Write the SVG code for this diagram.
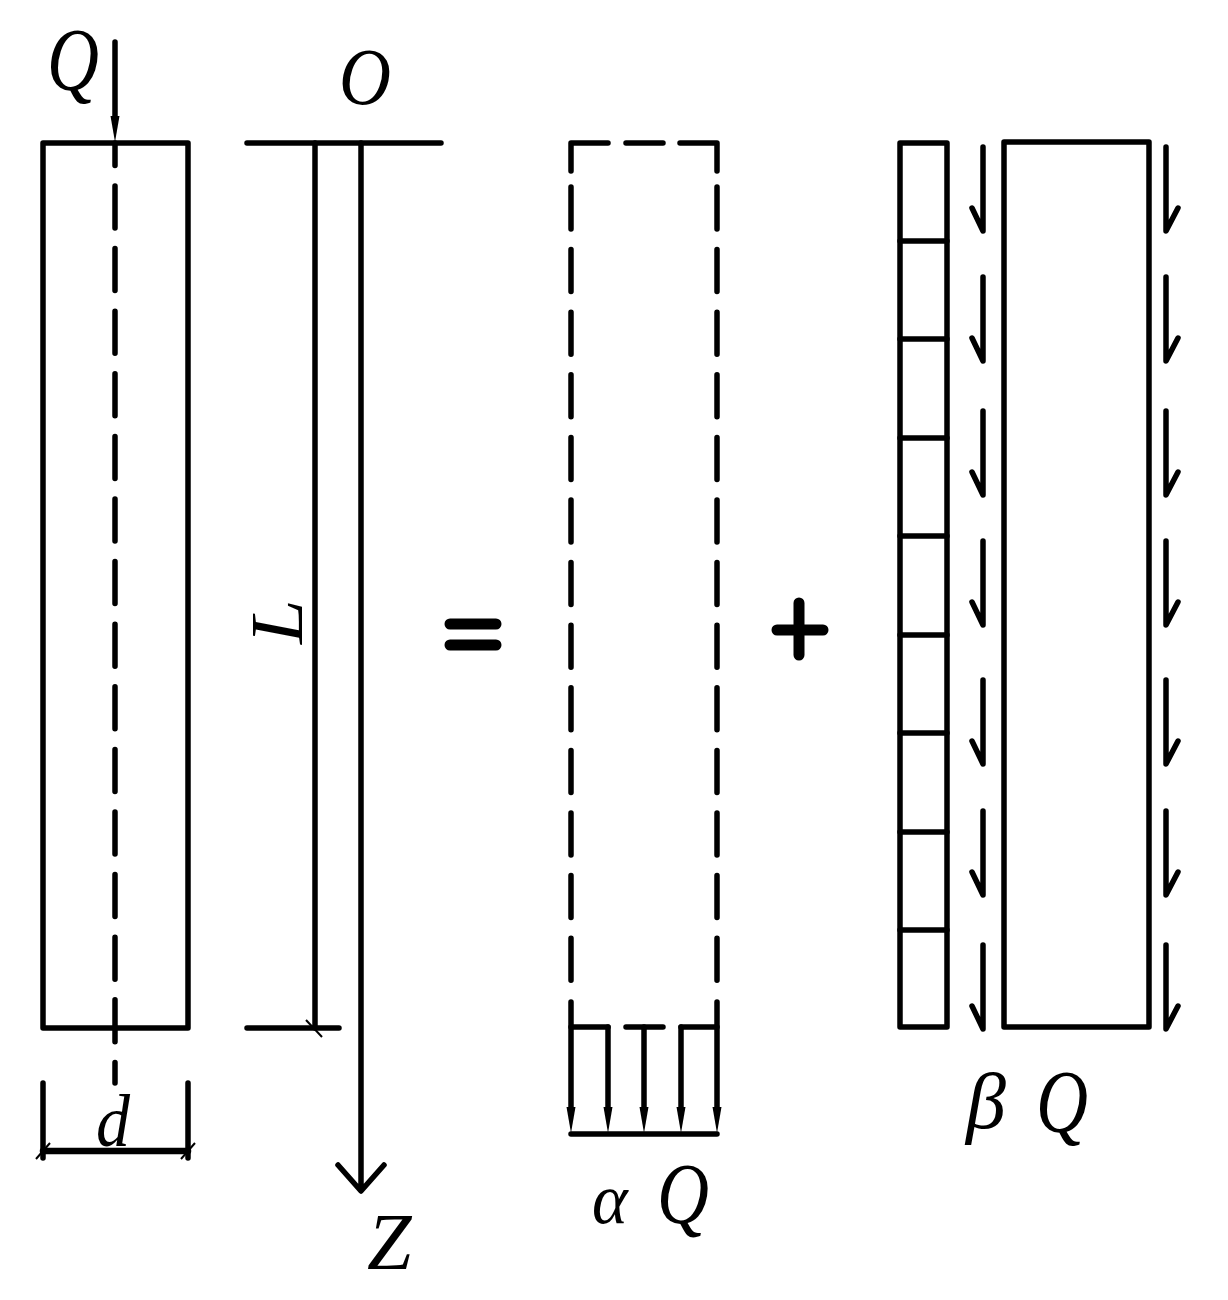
<svg xmlns="http://www.w3.org/2000/svg" width="1228" height="1300" viewBox="0 0 1228 1300">
<style>
.l{fill:none;stroke:#000;stroke-width:5.5;stroke-linecap:round;stroke-linejoin:round}
.t{fill:none;stroke:#000;stroke-width:2}
.d{fill:none;stroke:#000;stroke-width:5.5;stroke-linecap:round;stroke-dasharray:42 20.6}
.b{fill:none;stroke:#000;stroke-width:11;stroke-linecap:round}
text{font-family:"Liberation Serif","Times New Roman",serif;font-style:italic;font-size:80px;fill:#000}
</style>
<defs>
<path id="wedge" d="M-4.5 -26L4.5 -26L0 0Z" fill="#000"/>
<path id="arrowL" class="l" d="M983 0V84L972 61"/>
<path id="arrowR" class="l" d="M1166 0V84L1178 61"/>
</defs>
<rect width="1228" height="1300" fill="#fff"/>
<g id="pile">
<rect class="l" x="43" y="143" width="145" height="885"/>
<path class="d" stroke-dashoffset="19.6" d="M115 143V1083"/>
<path class="l" d="M115 42V118"/>
<use href="#wedge" x="115" y="142"/>
<text transform="translate(47 89) scale(.9 1.1)">Q</text>
<path class="l" d="M43 1083V1158M188 1083V1158"/>
<path class="l" d="M43 1151H188" style="stroke-width:6.5"/>
<path class="t" d="M36 1159L50 1143M181 1159L195 1143"/>
<text transform="translate(96 1146) scale(.85 .92)">d</text>
</g>
<g id="axis">
<path class="l" d="M247 143H441M247 1028H339"/>
<path class="l" d="M315 143V1028"/>
<path class="t" d="M306 1020L322 1037"/>
<path class="l" d="M361 143V1190M338 1165L361 1191L384 1165"/>
<text transform="translate(339 104) scale(.9 1)">O</text>
<text transform="translate(302 644) rotate(-90) scale(1 .93)">L</text>
<text x="367" y="1269">Z</text>
</g>
<g id="equals"><path class="b" d="M450 624H496M450 645H496"/></g>
<g id="end-load">
<path class="l" d="M571 171V143H608M626 143H663M680 143H717V171"/>
<path class="d" d="M571 187V983M717 187V983"/>
<path class="l" d="M571 1002V1110M717 1002V1110M608 1027V1110M644 1027V1110M681 1027V1110"/>
<path class="l" d="M571 1027H608M626 1027H663M681 1027H717M571 1134H717"/>
<use href="#wedge" x="571" y="1133"/><use href="#wedge" x="608" y="1133"/><use href="#wedge" x="644" y="1133"/><use href="#wedge" x="681" y="1133"/><use href="#wedge" x="717" y="1133"/>
<text transform="translate(592 1223) scale(.85 .9)">α</text>
<text transform="translate(657 1223) scale(.9 1.08)">Q</text>
</g>
<g id="plus"><path class="b" d="M777 630H823M799 603V655"/></g>
<g id="shaft-load">
<rect class="l" x="900" y="143" width="47" height="884"/>
<path class="l" d="M900 241H947M900 339H947M900 438H947M900 536H947M900 635H947M900 733H947M900 832H947M900 930H947"/>
<rect class="l" x="1004" y="142" width="145" height="885"/>
<use href="#arrowL" y="147"/><use href="#arrowL" y="277"/><use href="#arrowL" y="411"/><use href="#arrowL" y="541"/><use href="#arrowL" y="680"/><use href="#arrowL" y="811"/><use href="#arrowL" y="945"/>
<use href="#arrowR" y="147"/><use href="#arrowR" y="277"/><use href="#arrowR" y="411"/><use href="#arrowR" y="541"/><use href="#arrowR" y="680"/><use href="#arrowR" y="811"/><use href="#arrowR" y="945"/>
<text x="966" y="1128">β</text>
<text transform="translate(1036 1131) scale(.9 1.12)">Q</text>
</g>
</svg>
